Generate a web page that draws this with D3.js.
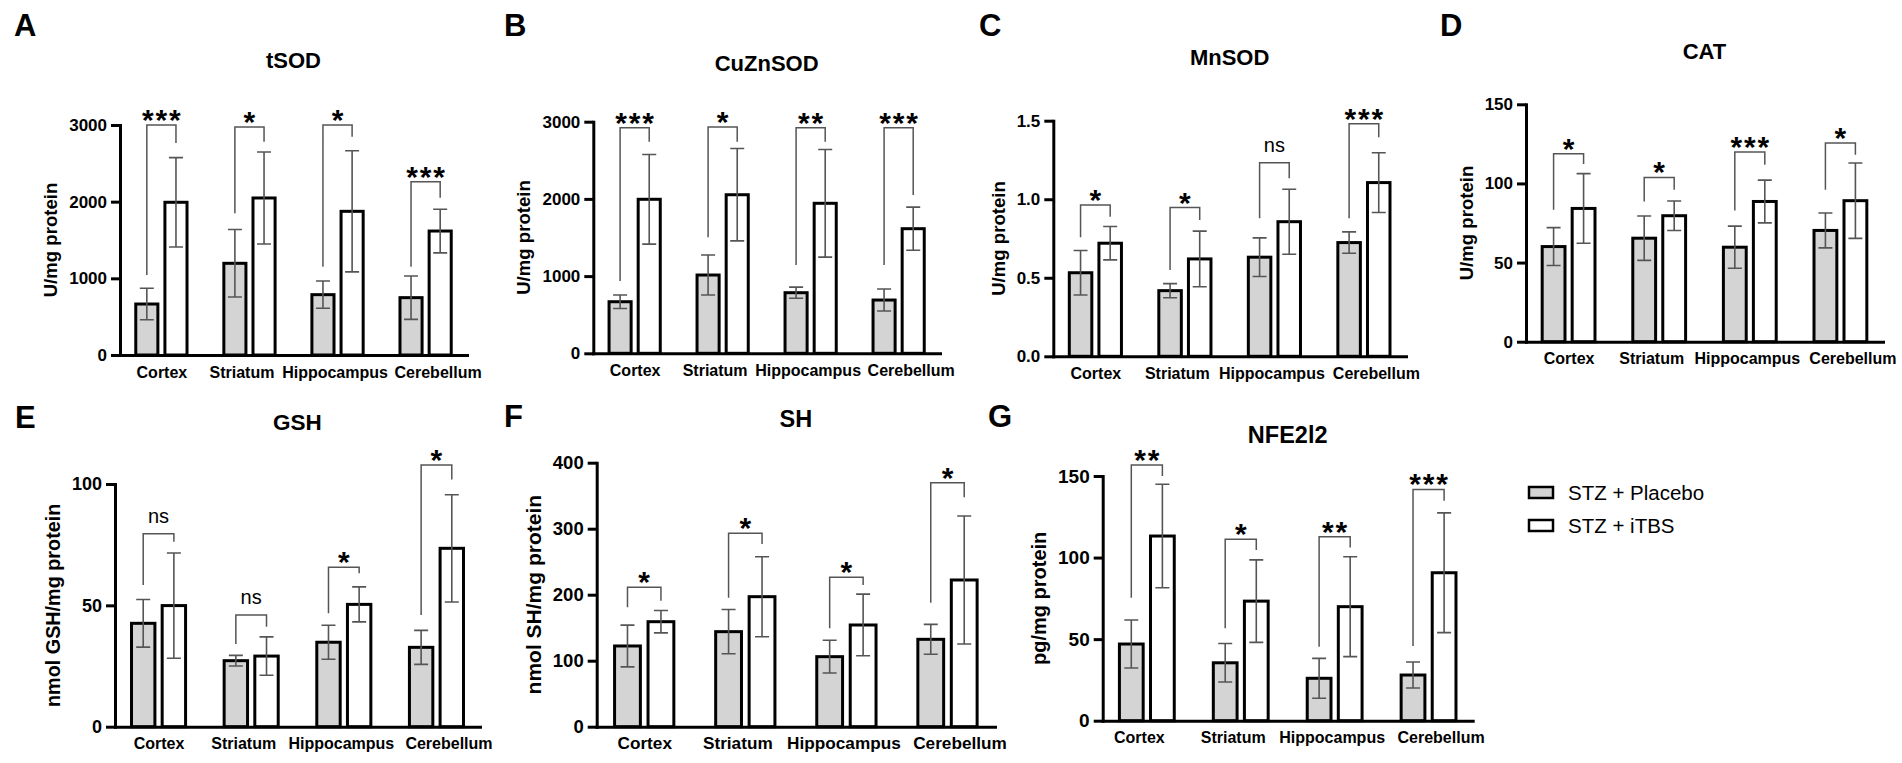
<!DOCTYPE html>
<html><head><meta charset="utf-8">
<script src="https://cdn.jsdelivr.net/npm/d3@7"></script>
<style>body{margin:0;background:#fff} svg{display:block} text{font-family:"Liberation Sans",Arial,sans-serif;fill:#000}</style>
</head><body><svg id="c" width="1902" height="763"></svg>
<script>
// ---------- DATA ----------
const categories = ["Cortex", "Striatum", "Hippocampus", "Cerebellum"];
const groups = ["STZ + Placebo", "STZ + iTBS"];
const panelLetters = ["A", "B", "C", "D", "E", "F", "G"];
const panelTitles = ["tSOD", "CuZnSOD", "MnSOD", "CAT", "GSH", "SH", "NFE2l2"];
const yLabels = ["U/mg protein", "U/mg protein", "U/mg protein", "U/mg protein", "nmol GSH/mg protein", "nmol SH/mg protein", "pg/mg protein"];

const tSOD_ticks = [0, 1000, 2000, 3000];
const tSOD_placebo = [665, 1196, 787, 748];
const tSOD_placeboErr = [205, 440, 178, 283];
const tSOD_itbs = [1992, 2048, 1874, 1617];
const tSOD_itbsErr = [583, 600, 790, 285];
const tSOD_sig = ["***", "*", "*", "***"];
const tSOD_bracket = [3000, 2974, 3000, 2260];
const tSOD_legLeft = [1043, 1848, 1152, 1152];
const tSOD_legRight = [2765, 2782, 2847, 2052];

const CuZnSOD_ticks = [0, 1000, 2000, 3000];
const CuZnSOD_placebo = [668, 1014, 785, 690];
const CuZnSOD_placeboErr = [88, 259, 72, 143];
const CuZnSOD_itbs = [1995, 2054, 1943, 1614];
const CuZnSOD_itbsErr = [581, 598, 697, 280];
const CuZnSOD_sig = ["***", "*", "**", "***"];
const CuZnSOD_bracket = [2922, 2931, 2922, 2922];
const CuZnSOD_legLeft = [937, 1503, 1144, 1144];
const CuZnSOD_legRight = [2741, 2741, 2741, 2051];

const MnSOD_ticks = [0, 0.5, 1.0, 1.5];
const MnSOD_placebo = [0.532, 0.418, 0.631, 0.724];
const MnSOD_placeboErr = [0.142, 0.045, 0.123, 0.068];
const MnSOD_itbs = [0.72, 0.62, 0.857, 1.106];
const MnSOD_itbsErr = [0.106, 0.177, 0.207, 0.19];
const MnSOD_sig = ["*", "*", "ns", "***"];
const MnSOD_bracket = [0.964, 0.947, 1.233, 1.48];
const MnSOD_legLeft = [0.758, 0.55, 0.879, 0.879];
const MnSOD_legRight = [0.889, 0.868, 1.134, 1.395];

const CAT_ticks = [0, 50, 100, 150];
const CAT_placebo = [60.1, 65.4, 59.7, 70.3];
const CAT_placeboErr = [12, 14, 13.3, 11];
const CAT_itbs = [84.2, 79.6, 88.6, 89.1];
const CAT_itbsErr = [22, 9.3, 13.5, 23.8];
const CAT_sig = ["*", "*", "***", "*"];
const CAT_bracket = [118.8, 103.8, 119.9, 125.6];
const CAT_legLeft = [83.4, 88.6, 82.9, 96];
const CAT_legRight = [112.3, 96, 111.8, 118.2];

const GSH_ticks = [0, 50, 100];
const GSH_placebo = [42.6, 27.2, 34.8, 32.7];
const GSH_placeboErr = [9.8, 2.2, 7, 7];
const GSH_itbs = [49.9, 29.1, 50.4, 73.5];
const GSH_itbsErr = [21.7, 7.9, 7.2, 22.1];
const GSH_sig = ["ns", "ns", "*", "*"];
const GSH_bracket = [79.5, 46, 65.7, 107.8];
const GSH_legLeft = [58.4, 34.1, 46.7, 46];
const GSH_legRight = [76.2, 41.2, 63.2, 101.9];

const SH_ticks = [0, 100, 200, 300, 400];
const SH_placebo = [122.3, 144, 106.1, 132.4];
const SH_placeboErr = [31.6, 33.5, 24.8, 22.7];
const SH_itbs = [159.1, 197, 154.1, 222.3];
const SH_itbsErr = [17, 60.6, 46.7, 97];
const SH_sig = ["*", "*", "*", "*"];
const SH_bracket = [211.2, 293, 226.4, 369.7];
const SH_legLeft = [180.9, 195.5, 149, 187.9];
const SH_legRight = [191, 276.8, 214.7, 347.6];

const NFE_ticks = [0, 50, 100, 150];
const NFE_placebo = [47, 35.5, 26, 28];
const NFE_placeboErr = [14.7, 11.8, 12.2, 8];
const NFE_itbs = [113.2, 73.3, 69.9, 90.7];
const NFE_itbsErr = [31.7, 25.3, 30.6, 36.7];
const NFE_sig = ["**", "*", "**", "***"];
const NFE_bracket = [156.7, 111.3, 112.7, 141.8];
const NFE_legLeft = [75.4, 56.6, 45.3, 45.8];
const NFE_legRight = [150, 104.6, 106.2, 134.8];

const panelData = [
  {ticks: tSOD_ticks, pl: tSOD_placebo, plE: tSOD_placeboErr, it: tSOD_itbs, itE: tSOD_itbsErr, sig: tSOD_sig, br: tSOD_bracket, lL: tSOD_legLeft, lR: tSOD_legRight, fmt: "d"},
  {ticks: CuZnSOD_ticks, pl: CuZnSOD_placebo, plE: CuZnSOD_placeboErr, it: CuZnSOD_itbs, itE: CuZnSOD_itbsErr, sig: CuZnSOD_sig, br: CuZnSOD_bracket, lL: CuZnSOD_legLeft, lR: CuZnSOD_legRight, fmt: "d"},
  {ticks: MnSOD_ticks, pl: MnSOD_placebo, plE: MnSOD_placeboErr, it: MnSOD_itbs, itE: MnSOD_itbsErr, sig: MnSOD_sig, br: MnSOD_bracket, lL: MnSOD_legLeft, lR: MnSOD_legRight, fmt: ".1f"},
  {ticks: CAT_ticks, pl: CAT_placebo, plE: CAT_placeboErr, it: CAT_itbs, itE: CAT_itbsErr, sig: CAT_sig, br: CAT_bracket, lL: CAT_legLeft, lR: CAT_legRight, fmt: "d"},
  {ticks: GSH_ticks, pl: GSH_placebo, plE: GSH_placeboErr, it: GSH_itbs, itE: GSH_itbsErr, sig: GSH_sig, br: GSH_bracket, lL: GSH_legLeft, lR: GSH_legRight, fmt: "d"},
  {ticks: SH_ticks, pl: SH_placebo, plE: SH_placeboErr, it: SH_itbs, itE: SH_itbsErr, sig: SH_sig, br: SH_bracket, lL: SH_legLeft, lR: SH_legRight, fmt: "d"},
  {ticks: NFE_ticks, pl: NFE_placebo, plE: NFE_placeboErr, it: NFE_itbs, itE: NFE_itbsErr, sig: NFE_sig, br: NFE_bracket, lL: NFE_legLeft, lR: NFE_legRight, fmt: "d"}
];

// ---------- LAYOUT ----------
const layout = [
  {x0: 120,   x1: 467,   y0: 355,   yT: 125,   lx: 14,    ly: 36,    ty: 68,    tick: 17, cat: 16,   yl: 18.6, tt: 22},
  {x0: 593.3, x1: 940,   y0: 353.3, yT: 121.7, lx: 504,   ly: 36,    ty: 70.7,  tick: 17, cat: 16,   yl: 18.6, tt: 22},
  {x0: 1053.3,x1: 1406,  y0: 356.3, yT: 120.7, lx: 979,   ly: 36,    ty: 65,    tick: 17, cat: 16,   yl: 18.6, tt: 22},
  {x0: 1526,  x1: 1883,  y0: 341.7, yT: 104.3, lx: 1440,  ly: 36,    ty: 59.3,  tick: 17, cat: 16,   yl: 18.6, tt: 22},
  {x0: 115,   x1: 480,   y0: 726.7, yT: 484,   lx: 15,    ly: 428.3, ty: 430,   tick: 18, cat: 16,   yl: 19.8, tt: 22.5},
  {x0: 596.7, x1: 995,   y0: 726.7, yT: 462.7, lx: 504,   ly: 427.3, ty: 427.3, tick: 18.5, cat: 17.2, yl: 21, tt: 23.5},
  {x0: 1102.7,x1: 1472.7,y0: 720.7, yT: 476,   lx: 988,   ly: 427.3, ty: 443.3, tick: 19, cat: 16,   yl: 20, tt: 23.5}
];
// horizontal nudges of category labels (GraphPad spreads them to avoid overlap)
const labelNudge = [0, -8, -3, 12];

const GRAY = "#d4d4d4";
const svg = d3.select("#c");

panelData.forEach((d, i) => {
  const L = layout[i];
  const g = svg.append("g");
  const x = d3.scalePoint().domain(categories).range([L.x0, L.x1]).padding(0.47);
  const y = d3.scaleLinear().domain([0, d3.max(d.ticks)]).range([L.y0, L.yT]);
  const step = x.step();
  const bw = step * 0.285;
  const gap = step * 0.046;
  const off = (bw + gap) / 2;

  const series = [
    {vals: d.pl, errs: d.plE, fill: GRAY, dx: -off},
    {vals: d.it, errs: d.itE, fill: "#fff", dx: off}
  ];
  // bars
  series.forEach(s => {
    categories.forEach((c, k) => {
      const cx = x(c) + s.dx;
      g.append("rect")
        .attr("x", cx - bw / 2 + 1.5).attr("width", bw - 3)
        .attr("y", y(s.vals[k])).attr("height", L.y0 - y(s.vals[k]))
        .attr("fill", s.fill).attr("stroke", "#000").attr("stroke-width", 3);
    });
  });
  // error bars
  series.forEach(s => {
    categories.forEach((c, k) => {
      const cx = x(c) + s.dx;
      const hi = y(s.vals[k] + s.errs[k]), lo = y(s.vals[k] - s.errs[k]);
      const cw = 7;
      g.append("path")
        .attr("d", `M${cx},${lo}V${hi}M${cx - cw},${hi}H${cx + cw}M${cx - cw},${lo}H${cx + cw}`)
        .attr("stroke", "#555").attr("stroke-width", 1.6).attr("fill", "none");
    });
  });
  // significance brackets
  categories.forEach((c, k) => {
    const xl = x(c) - off, xr = x(c) + off;
    const yb = y(d.br[k]);
    g.append("path")
      .attr("d", `M${xl},${y(d.lL[k])}V${yb}H${xr}V${y(d.lR[k])}`)
      .attr("stroke", "#555").attr("stroke-width", 1.5).attr("fill", "none");
    const s = d.sig[k];
    if (s === "ns") {
      g.append("text").attr("x", x(c)).attr("y", yb - 11)
        .attr("text-anchor", "middle").attr("font-size", 20).text(s);
    } else {
      g.append("text").attr("x", x(c) + 0.9).attr("y", yb + 5)
        .attr("text-anchor", "middle").attr("font-size", 30).attr("font-weight", "bold")
        .attr("letter-spacing", 1.8).text(s);
    }
  });

  // y axis
  const ya = g.append("g").attr("transform", `translate(${L.x0},0)`)
    .call(d3.axisLeft(y).tickValues(d.ticks).tickFormat(d3.format(d.fmt)).tickSize(9).tickSizeOuter(0).tickPadding(4));
  ya.select(".domain").attr("stroke-width", 3).attr("stroke-linecap", "square");
  ya.selectAll(".tick line").attr("stroke-width", 3);
  ya.selectAll(".tick text").attr("font-size", L.tick).attr("font-weight", "bold")
    .attr("font-family", '"Liberation Sans",Arial,sans-serif');
  let maxW = 0;
  ya.selectAll(".tick text").each(function () { maxW = Math.max(maxW, this.getBBox().width); });

  // x axis
  const xa = g.append("g").attr("transform", `translate(0,${L.y0})`)
    .call(d3.axisBottom(x).tickSize(0).tickSizeOuter(0).tickPadding(22.5 - 0.71 * L.cat));
  xa.select(".domain").attr("stroke-width", 3).attr("stroke-linecap", "square");
  xa.selectAll(".tick text").attr("font-size", L.cat).attr("font-weight", "bold")
    .attr("font-family", '"Liberation Sans",Arial,sans-serif')
    .attr("dx", (c, k) => (i === 6 && k === 0) ? -8 : labelNudge[k]);

  // y label
  const ylx = L.x0 - 13 - maxW - 12;
  g.append("text")
    .attr("transform", `translate(${ylx},${(L.y0 + L.yT) / 2}) rotate(-90)`)
    .attr("text-anchor", "middle").attr("font-size", L.yl).attr("font-weight", "bold")
    .text(yLabels[i]);

  // title
  g.append("text").attr("x", (L.x0 + L.x1) / 2).attr("y", L.ty)
    .attr("text-anchor", "middle").attr("font-size", L.tt).attr("font-weight", "bold")
    .text(panelTitles[i]);
  // panel letter
  g.append("text").attr("x", L.lx).attr("y", L.ly)
    .attr("font-size", 31).attr("font-weight", "bold").text(panelLetters[i]);
});

// legend
const legendFills = [GRAY, "#fff"];
const leg = svg.append("g");
groups.forEach((name, i) => {
  const yy = [487, 520][i];
  leg.append("rect").attr("x", 1529).attr("y", yy).attr("width", 24).attr("height", 11)
    .attr("fill", legendFills[i]).attr("stroke", "#000").attr("stroke-width", 2.5);
  leg.append("text").attr("x", 1568).attr("y", yy + 13).attr("font-size", 20.5).text(name);
});
</script></body></html>
